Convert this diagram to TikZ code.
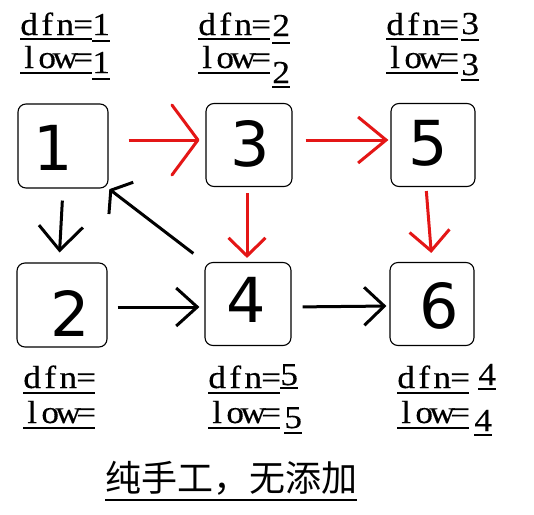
\documentclass[tikz,border=0pt]{standalone}
\usepackage{fontspec}
\usepackage{graphicx}
\usetikzlibrary{arrows.meta}
\newfontfamily\cjkfont{Noto Sans CJK SC}
\newfontfamily\digitfont{DejaVu Sans}
\newfontfamily\lblfont[FakeBold=0.25]{Liberation Serif}
\definecolor{arrowred}{RGB}{228,22,22}
\newcommand\cell[1]{\makebox[18pt][c]{\scalebox{1.1}[1]{#1}}}
\newcommand\mklab[5]{%
  \node[lbl] (#1) at (#2,#3) {#4};
  \draw[uline] ([yshift=-#5pt]#1.base west) -- ([yshift=-#5pt]#1.base east);}
\begin{document}
\begin{tikzpicture}[x=1pt,y=-1pt,
  box/.style={draw, line width=1.1pt, rounded corners=8pt, inner sep=0pt},
  dig/.style={inner sep=0pt, font=\digitfont\fontsize{62}{62}\selectfont},
  lbl/.style={anchor=base west, inner sep=0pt, font=\lblfont\fontsize{32}{32}\selectfont},
  uline/.style={line width=1.8pt},
  blk/.style={line width=3pt, black},
  redarr/.style={line width=3pt, arrowred},
]
\fill[white] (0,0) rectangle (534,514);
\useasboundingbox (0,0) rectangle (534,514);

% boxes
\node[box, minimum width=90pt, minimum height=84pt] (n1) at (63,146) {};
\node[box, minimum width=86pt, minimum height=83pt] (n3) at (249,145) {};
\node[box, minimum width=84pt, minimum height=83pt] (n5) at (433,145) {};
\node[box, minimum width=90pt, minimum height=84pt] (n2) at (62,305) {};
\node[box, minimum width=86pt, minimum height=83pt] (n4) at (248,304) {};
\node[box, minimum width=84pt, minimum height=83pt] (n6) at (432,304) {};

% handwritten-like digits
\node[dig] (d1) at (53,148) {1};
\node[dig] (d3) at (250,144) {3};
\node[dig] (d5) at (428,143) {5};
\node[dig] (d2) at (70,313) {2};
\node[dig] (d4) at (246,300) {4};
\node[dig] (d6) at (439,306) {6};

% red arrows
\draw[redarr, -{Straight Barb[length=26pt,width=70pt,round]}, shorten <=20pt, shorten >=6pt]
  ([yshift=6pt]n1.east) -- ([yshift=5pt]n3.west);
\draw[redarr, -{Straight Barb[length=28pt,width=46pt]}, shorten <=13pt, shorten >=2pt]
  ([yshift=5pt]n3.east) -- ([yshift=5pt]n5.west);
\draw[redarr, -{Straight Barb[length=18pt,width=37pt]}, shorten <=6pt, shorten >=4pt]
  ([xshift=-2pt]n3.south) -- ([xshift=-1pt]n4.north);
\draw[redarr, -{Straight Barb[length=20pt,width=40pt]}, shorten <=4pt, shorten >=9pt]
  ([xshift=-7pt]n5.south) -- (n6.north);

% black arrows
\draw[blk, -{Straight Barb[length=24pt,width=44pt]}, shorten <=12pt, shorten >=10pt]
  (n1.south) -- ([xshift=-3pt]n2.north);
\draw[blk, -{Straight Barb[length=21pt,width=38pt]}, shorten <=10pt, shorten >=5pt]
  ([yshift=-2pt]n2.east) -- ([yshift=-3pt]n4.west);
\draw[blk, -{Straight Barb[length=20pt,width=38pt]}, shorten <=11pt, shorten >=3pt]
  ([yshift=-3pt]n4.east) -- ([yshift=-2pt]n6.west);
\draw[blk, -{Straight Barb[length=13pt,width=40pt]}, shorten <=14pt, shorten >=1pt]
  (n4.north west) -- (n1.south east);

% labels, top row
\mklab{a1}{20}{35}{\cell{d}\cell{f}\cell{n}\cell{=}}{4}
\mklab{a2}{92}{35}{\cell{1}}{6}
\mklab{a3}{20}{68}{\cell{l}\cell{o}\cell{w}\cell{=}}{5}
\mklab{a4}{92}{73}{\cell{1}}{6}
\mklab{b1}{198}{35}{\cell{d}\cell{f}\cell{n}\cell{=}}{4}
\mklab{b2}{272}{36}{\cell{2}}{7}
\mklab{b3}{198}{68}{\cell{l}\cell{o}\cell{w}\cell{=}}{5}
\mklab{b4}{272}{83}{\cell{2}}{4}
\mklab{c1}{386}{35}{\cell{d}\cell{f}\cell{n}\cell{=}}{4}
\mklab{c2}{461}{34}{\cell{3}}{6}
\mklab{c3}{386}{68}{\cell{l}\cell{o}\cell{w}\cell{=}}{5}
\mklab{c4}{461}{75}{\cell{3}}{5}
% labels, bottom row
\mklab{e1}{23}{388}{\cell{d}\cell{f}\cell{n}\cell{=}}{5}
\mklab{e3}{23}{423}{\cell{l}\cell{o}\cell{w}\cell{=}}{5}
\mklab{f1}{208}{388}{\cell{d}\cell{f}\cell{n}\cell{=}}{5}
\mklab{f2}{280}{385}{\cell{5}}{3}
\mklab{f3}{208}{423}{\cell{l}\cell{o}\cell{w}\cell{=}}{5}
\mklab{f4}{284}{428}{\cell{5}}{5}
\mklab{g1}{397}{388}{\cell{d}\cell{f}\cell{n}\cell{=}}{5}
\mklab{g2}{478}{385}{\cell{4}}{4}
\mklab{g3}{397}{423}{\cell{l}\cell{o}\cell{w}\cell{=}}{5}
\mklab{g4}{474}{431}{\cell{4}}{4}

% caption
\node[anchor=base west, inner sep=0pt, font=\cjkfont\fontsize{36}{36}\selectfont] (cap) at (105,491) {纯手工，无添加};
\draw[uline] ([yshift=-9pt]cap.base west) -- ([yshift=-9pt]cap.base east);
\end{tikzpicture}
\end{document}
